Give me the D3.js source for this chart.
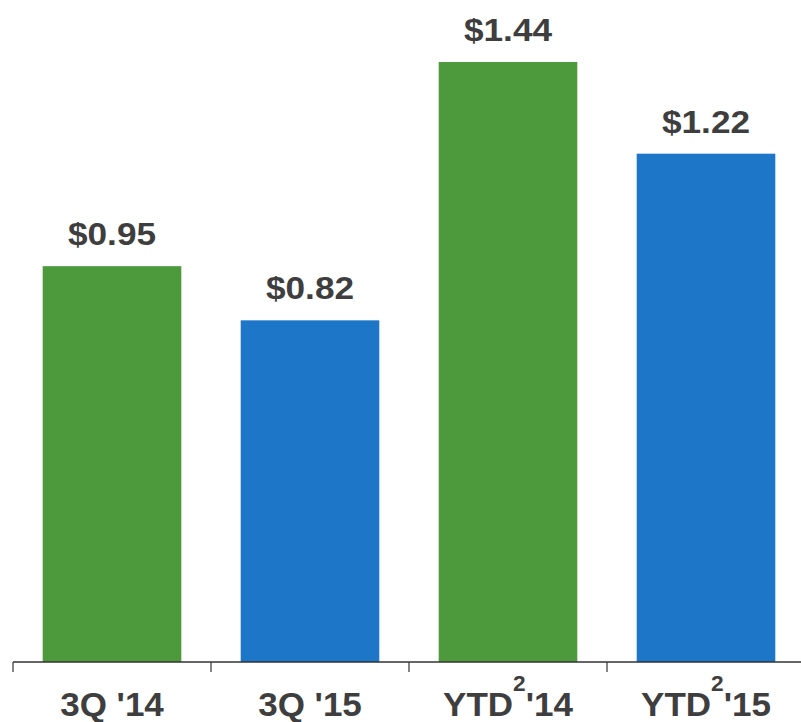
<!DOCTYPE html>
<html>
<head>
<meta charset="utf-8">
<script src="https://cdn.jsdelivr.net/npm/d3@7"></script>
<style>
  html, body { margin: 0; padding: 0; background: #fff; }
  svg { display: block; }
</style>
</head>
<body>
<svg id="chart" width="801" height="722"></svg>
<script>
// values
const CATEGORIES = ['3Q \'14', '3Q \'15', 'YTD2\'14', 'YTD2\'15'];
const VALUES = [0.95, 0.82, 1.44, 1.22];
const VALUE_LABELS = ['$0.95', '$0.82', '$1.44', '$1.22'];
const COLORS = ['#4c9a3c', '#1e76c8', '#4c9a3c', '#1e76c8'];

const W = 801, H = 722;
const BASE_Y = 662;
const TEXT_COLOR = '#3e3e3e';
const FONT = '"Liberation Sans", Arial, sans-serif';

const svg = d3.select('#chart');

const x = d3.scaleBand()
  .domain(d3.range(CATEGORIES.length))
  .range([13, 805])
  .paddingInner(0.3)
  .paddingOuter(0.15);

const y = d3.scaleLinear()
  .domain([0, 1.5])
  .range([BASE_Y, 37]);

// bars
svg.append('g')
  .selectAll('rect')
  .data(VALUES)
  .join('rect')
  .attr('x', (d, i) => x(i))
  .attr('y', d => y(d))
  .attr('width', x.bandwidth())
  .attr('height', d => y(0) - y(d))
  .attr('fill', (d, i) => COLORS[i]);

// value labels (glyphs in the original look a little stretched sideways)
svg.append('g')
  .selectAll('text')
  .data(VALUES)
  .join('text')
  .attr('transform', (d, i) => `translate(${x(i) + x.bandwidth() / 2},${y(d) - 21}) scale(1.1,1)`)
  .attr('text-anchor', 'middle')
  .attr('font-family', FONT)
  .attr('font-weight', 'bold')
  .attr('font-size', 32)
  .attr('fill', TEXT_COLOR)
  .text((d, i) => VALUE_LABELS[i]);

// x axis: baseline plus ticks between bands
const axisG = svg.append('g');
axisG.append('line')
  .attr('x1', 13).attr('x2', W)
  .attr('y1', BASE_Y).attr('y2', BASE_Y)
  .attr('stroke', '#333').attr('stroke-width', 1.5);

const tickXs = d3.range(CATEGORIES.length).map(i => 13 + i * x.step());
axisG.selectAll('line.tick')
  .data(tickXs)
  .join('line')
  .attr('class', 'tick')
  .attr('x1', d => d).attr('x2', d => d)
  .attr('y1', BASE_Y).attr('y2', BASE_Y + 10)
  .attr('stroke', '#333').attr('stroke-width', 1.2);

// category labels (YTD with superscript 2)
const catG = axisG.selectAll('text.cat')
  .data(CATEGORIES)
  .join('text')
  .attr('class', 'cat')
  .attr('transform', (d, i) => `translate(${x(i) + x.bandwidth() / 2},716) scale(1.03,1)`)
  .attr('text-anchor', 'middle')
  .attr('font-family', FONT)
  .attr('font-weight', 'bold')
  .attr('font-size', 34)
  .attr('fill', TEXT_COLOR);

catG.each(function(d) {
  const t = d3.select(this);
  const m = d.match(/^YTD2(.*)$/);
  if (m) {
    t.append('tspan').text('YTD');
    t.append('tspan').attr('font-size', 22).attr('dy', -25).text('2');
    t.append('tspan').attr('dy', 25).text(m[1]);
  } else {
    t.text(d);
  }
});
</script>
</body>
</html>
